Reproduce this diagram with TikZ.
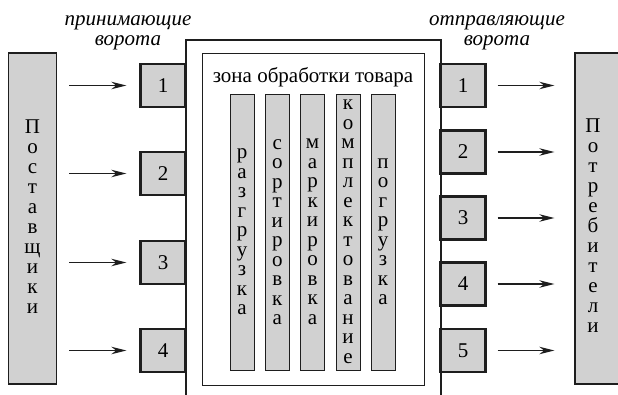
\documentclass[tikz,border=0pt]{standalone}
\usepackage{fontspec}
\setmainfont{Liberation Serif}
\usetikzlibrary{arrows.meta}
\definecolor{boxgray}{HTML}{D1D1D1}
\definecolor{ink}{HTML}{1E1E1E}
\tikzset{
  bigfont/.style={font=\fontsize{21}{20}\selectfont},
  vtext/.style={bigfont, align=center, inner sep=0pt},
  coltext/.style={font=\fontsize{21}{19.5}\selectfont, align=center, inner sep=0pt},
  gate/.style={draw=ink, line width=2.4pt, fill=boxgray, minimum width=45pt, minimum height=43pt, inner sep=0pt, bigfont},
  column/.style={draw=ink, line width=1pt, fill=boxgray, minimum width=24pt, minimum height=276pt, inner sep=0pt},
  sidebox/.style={draw=ink, line width=1.4pt, fill=boxgray, minimum width=48pt, minimum height=331pt, inner sep=0pt},
  arr/.style={draw=ink, line width=1.2pt, -{Stealth[length=15pt,width=7.5pt]}},
  heading/.style={font=\fontsize{21}{20}\selectfont\itshape, align=center, inner sep=0pt}
}
\begin{document}
\begin{tikzpicture}[x=1pt,y=-1pt]
\useasboundingbox (0,0) rectangle (618,394);
% side boxes
\node[sidebox] (sup) at (32.5,218.5) {};
\node[vtext] (suptext) at (32.5,217) {П\\о\\с\\т\\а\\в\\щ\\и\\к\\и};
\node[sidebox, minimum width=52pt] (con) at (601,218.5) {};
\node[vtext] (context) at (593,226) {П\\о\\т\\р\\е\\б\\и\\т\\е\\л\\и};
% building
\draw[ink, line width=2.4pt] (186,396) -- (186,40) -- (441,40) -- (441,396);
\node[draw=ink, line width=1pt, minimum width=222pt, minimum height=332pt, inner sep=0pt] (zone) at (313,219) {};
\node[bigfont, anchor=base, inner sep=0pt] (title) at (313,82) {зона обработки товара};
% columns
\node[column] (c1) at (242,232) {};
\node[column] (c2) at (277.3,232) {};
\node[column] (c3) at (312.6,232) {};
\node[column] (c4) at (348,232) {};
\node[column] (c5) at (383,232) {};
\node[coltext] (t1) at (c1.center) {р\\а\\з\\г\\р\\у\\з\\к\\а};
\node[coltext] (t2) at (c2.center) {с\\о\\р\\т\\и\\р\\о\\в\\к\\а};
\node[coltext] (t3) at (c3.center) {м\\а\\р\\к\\и\\р\\о\\в\\к\\а};
\node[coltext] (t4) at (c4.center) {к\\о\\м\\п\\л\\е\\к\\т\\о\\в\\а\\н\\и\\е};
\node[coltext] (t5) at (c5.center) {п\\о\\г\\р\\у\\з\\к\\а};
% headings
\node[heading] (hin) at (128,33) {принимающие\\ворота};
\node[heading] (hout) at (497,33) {отправляющие\\ворота};
% left gates
\node[gate] (gL1) at (163,85.5) {1};
\node[gate] (gL2) at (163,173.5) {2};
\node[gate] (gL3) at (163,262.5) {3};
\node[gate] (gL4) at (163,350.5) {4};
% right gates
\node[gate] (gR1) at (463,85.5) {1};
\node[gate] (gR2) at (463,152) {2};
\node[gate] (gR3) at (463,218) {3};
\node[gate] (gR4) at (463,284) {4};
\node[gate] (gR5) at (463,350.5) {5};
% arrows in
\foreach \g in {gL1,gL2,gL3,gL4}
  \draw[arr, shorten <=12pt, shorten >=13pt] (sup.east |- \g.west) -- (\g.west);
% arrows out
\foreach \g in {gR1,gR2,gR3,gR4,gR5}
  \draw[arr, shorten <=11pt, shorten >=20pt] (\g.east) -- (con.west |- \g.east);
\end{tikzpicture}
\end{document}
